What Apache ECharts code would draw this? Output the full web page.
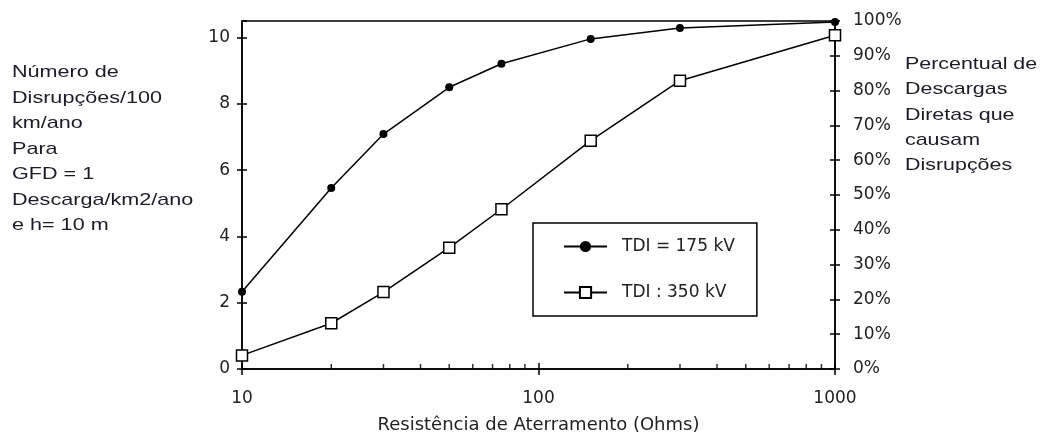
<!DOCTYPE html>
<html>
<head>
<meta charset="utf-8">
<script src="https://cdn.jsdelivr.net/npm/echarts@6/dist/echarts.min.js"></script>
<style>
html,body{margin:0;padding:0;background:#fff;}
#chart{width:1042px;height:438px;}
</style>
</head>
<body>
<div id="chart"></div>
<script>
// ---- data ----
var resistance = [10, 20, 30, 50, 75, 150, 300, 1000];
var tdi175 = [2.33, 5.46, 7.09, 8.50, 9.21, 9.96, 10.29, 10.47];
var tdi350 = [0.41, 1.38, 2.32, 3.66, 4.82, 6.89, 8.70, 10.07];
var seriesNames = ['TDI = 175 kV', 'TDI : 350 kV'];
var minorTickValues = [20, 30, 40, 50, 60, 70, 80, 90, 200, 300, 400, 500, 600, 700, 800, 900];
var xAxisName = 'Resistência de Aterramento (Ohms)';
var leftText = ['Número de', 'Disrupções/100', 'km/ano', 'Para', 'GFD = 1', 'Descarga/km2/ano', 'e h= 10 m'];
var rightText = ['Percentual de', 'Descargas', 'Diretas que', 'causam', 'Disrupções'];

var FONT = 'DejaVu Sans';
var TXT = '#222';

function pairs(xs, ys) { return xs.map(function (x, i) { return [x, ys[i]]; }); }

var chart = echarts.init(document.getElementById('chart'), null, { renderer: 'canvas' });
var option = {
  animation: false,
  backgroundColor: '#fff',
  textStyle: { fontFamily: FONT },
  grid: { left: 242, right: 207, top: 21, bottom: 69, show: true, borderColor: '#000', borderWidth: 1.5,
    backgroundColor: 'transparent', containLabel: false, outerBoundsMode: 'none' },
  legend: {
    data: seriesNames,
    orient: 'vertical',
    left: 533, top: 223,
    padding: [15, 22, 15, 30],
    itemWidth: 43, itemHeight: 14, itemGap: 29,
    borderColor: '#000', borderWidth: 1.5, borderRadius: 0,
    backgroundColor: '#fff',
    formatter: function (n) { return '{a|' + n + '}'; },
    textStyle: { fontFamily: FONT, fontSize: 17, color: TXT, rich: { a: { fontFamily: FONT, fontSize: 17, color: TXT, padding: [0, 0, 0, 10] } } }
  },
  xAxis: [{
    type: 'log', logBase: 10, min: 10, max: 1000,
    name: xAxisName, nameLocation: 'middle', nameGap: 47,
    nameTextStyle: { fontFamily: FONT, fontSize: 18, color: TXT },
    axisLine: { show: true, lineStyle: { color: '#000', width: 1.5 } },
    axisTick: { show: true, inside: false, length: 6, lineStyle: { color: '#000', width: 1.5 } },
    axisLabel: { fontFamily: FONT, fontSize: 17, color: TXT, margin: 21, formatter: function (v) { return String(Math.round(v)); } },
    splitLine: { show: false }
  }, {
    type: 'log', logBase: 10, min: 10, max: 1000, position: 'bottom',
    axisLine: { show: false },
    axisTick: { show: true, inside: true, length: 6, lineStyle: { color: '#000', width: 1.5 } },
    axisLabel: { show: false },
    splitLine: { show: false }
  }],
  yAxis: [{
    type: 'value', min: 0, max: 10.5, interval: 2, position: 'left',
    axisLine: { show: true, lineStyle: { color: '#000', width: 1.5 } },
    axisTick: { show: true, length: 5, lineStyle: { color: '#000', width: 1.5 } },
    axisLabel: { fontFamily: FONT, fontSize: 17, color: TXT, margin: 12, showMaxLabel: false,
      formatter: function (v) { return v % 2 === 0 ? String(v) : ''; } },
    splitLine: { show: false }
  }, {
    type: 'value', min: 0, max: 100, interval: 10, position: 'right',
    axisLine: { show: true, lineStyle: { color: '#000', width: 1.5 } },
    axisTick: { show: true, length: 5, lineStyle: { color: '#000', width: 1.5 } },
    axisLabel: { fontFamily: FONT, fontSize: 17, color: TXT, margin: 18, formatter: '{value}%' },
    splitLine: { show: false }
  }, {
    type: 'value', min: 0, max: 10.5, interval: 2, position: 'left',
    axisLine: { show: false },
    axisTick: { show: true, inside: true, length: 5, lineStyle: { color: '#000', width: 1.5 } },
    axisLabel: { show: false },
    splitLine: { show: false }
  }, {
    type: 'value', min: 0, max: 100, interval: 10, position: 'right',
    axisLine: { show: false },
    axisTick: { show: true, inside: true, length: 5, lineStyle: { color: '#000', width: 1.5 } },
    axisLabel: { show: false },
    splitLine: { show: false }
  }],
  series: [{
    name: seriesNames[0], type: 'line', xAxisIndex: 0, yAxisIndex: 0,
    data: pairs(resistance, tdi175),
    symbol: 'circle', symbolSize: 8, clip: false,
    lineStyle: { color: '#000', width: 1.5 },
    itemStyle: { color: '#000' }, z: 5
  }, {
    name: seriesNames[1], type: 'line', xAxisIndex: 0, yAxisIndex: 0,
    data: pairs(resistance, tdi350),
    symbol: 'rect', symbolSize: 11, clip: false,
    lineStyle: { color: '#000', width: 1.5 },
    itemStyle: { color: '#fff', borderColor: '#000', borderWidth: 1.5 }, z: 5
  }, {
    name: 'minorTicks', type: 'scatter', xAxisIndex: 0, yAxisIndex: 0,
    data: minorTickValues.map(function (v) { return [v, 0]; }),
    symbol: 'rect', symbolSize: [1.5, 5], symbolOffset: [0, -2.5],
    itemStyle: { color: '#000' }, silent: true, clip: false, z: 3
  }],
  graphic: [{
    type: 'text', x: 12, y: 60, scaleX: 1.27, scaleY: 1,
    style: { text: leftText.join('\n'), font: '17px "Liberation Sans", Arial, sans-serif', lineHeight: 25.5, fill: '#1c1c28' }
  }, {
    type: 'text', x: 905, y: 52, scaleX: 1.26, scaleY: 1,
    style: { text: rightText.join('\n'), font: '17px "Liberation Sans", Arial, sans-serif', lineHeight: 25.2, fill: '#1c1c28' }
  }]
};
chart.setOption(option);
</script>
</body>
</html>
